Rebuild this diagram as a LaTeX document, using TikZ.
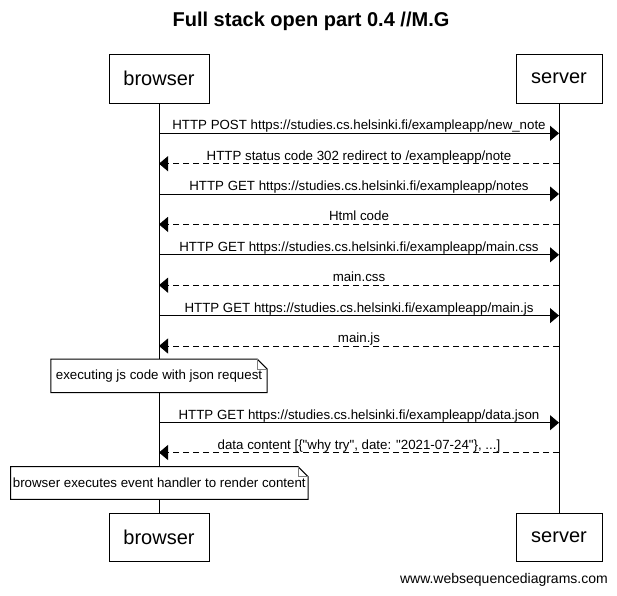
\documentclass[tikz,border=0pt]{standalone}
\usepackage{fontspec}
\setmainfont{Liberation Sans}
\usetikzlibrary{arrows.meta}
\tikzset{
  actor/.style={draw, line width=1pt, fill=white, inner sep=0pt, minimum height=49pt, font=\fontsize{20}{24}\selectfont},
  life/.style={line width=1pt},
  msg/.style={line width=1pt, -{Triangle[length=9pt,width=15pt]}},
  reply/.style={msg, dash pattern=on 6pt off 4pt},
  lbl/.style={anchor=base, inner sep=0pt, yshift=3.5pt, font=\fontsize{13.3}{16}\selectfont},
  notetext/.style={fill=white, inner sep=0pt, font=\fontsize{13.3}{16}\selectfont},
  noteline/.style={line width=1pt},
  fold/.style={line width=0.8pt, draw=gray},
}
\begin{document}
\begin{tikzpicture}[x=1pt,y=-1pt]
\useasboundingbox (0,0) rectangle (617,595);
\node[font=\fontsize{20}{24}\selectfont\bfseries] (title) at (311,21) {Full stack open part 0.4 //M.G};
\node[actor, minimum width=100pt] (bt) at (159,78.5) {browser};
\node[actor, minimum width=86pt] (st) at (559,78.5) {server};
\node[actor, minimum width=100pt, minimum height=48pt] (bb) at (159,537) {browser};
\node[actor, minimum width=86pt, minimum height=48pt] (sb) at (559,537) {server};
\draw[life] (bt) -- (bb);
\draw[life] (st) -- (sb);

\coordinate (b1) at (159,133.3);  \coordinate (s1) at (559,133.3);
\coordinate (b2) at (159,163.7);  \coordinate (s2) at (559,163.7);
\coordinate (b3) at (159,194.0);  \coordinate (s3) at (559,194.0);
\coordinate (b4) at (159,224.4);  \coordinate (s4) at (559,224.4);
\coordinate (b5) at (159,254.8);  \coordinate (s5) at (559,254.8);
\coordinate (b6) at (159,285.2);  \coordinate (s6) at (559,285.2);
\coordinate (b7) at (159,315.6);  \coordinate (s7) at (559,315.6);
\coordinate (b8) at (159,346.0);  \coordinate (s8) at (559,346.0);
\coordinate (b9) at (159,422.7);  \coordinate (s9) at (559,422.7);
\coordinate (b10) at (159,452.5); \coordinate (s10) at (559,452.5);

\draw[msg] (b1) -- node[lbl] {HTTP POST https://studies.cs.helsinki.fi/exampleapp/new\_note} (s1);
\draw[reply] (s2) -- node[lbl] {HTTP status code 302 redirect to /exampleapp/note} (b2);
\draw[msg] (b3) -- node[lbl] {HTTP GET https://studies.cs.helsinki.fi/exampleapp/notes} (s3);
\draw[reply] (s4) -- node[lbl] {Html code} (b4);
\draw[msg] (b5) -- node[lbl] {HTTP GET https://studies.cs.helsinki.fi/exampleapp/main.css} (s5);
\draw[reply] (s6) -- node[lbl] {main.css} (b6);
\draw[msg] (b7) -- node[lbl] {HTTP GET https://studies.cs.helsinki.fi/exampleapp/main.js} (s7);
\draw[reply] (s8) -- node[lbl] {main.js} (b8);
\draw[msg] (b9) -- node[lbl] {HTTP GET https://studies.cs.helsinki.fi/exampleapp/data.json} (s9);
\draw[reply] (s10) -- node[lbl] {data content [\{\textquotedbl why try\textquotedbl, date: \textquotedbl 2021-07-24\textquotedbl\}, ...]} (b10);

\node[notetext, minimum width=216pt, minimum height=33pt] (n1) at (159,375.8) {executing js code with json request};
\draw[noteline] (n1.north west) -- ([xshift=-10pt]n1.north east) -- ([yshift=-10pt]n1.north east) -- (n1.south east) -- (n1.south west) -- cycle;
\draw[fold] ([xshift=-10pt]n1.north east) -- ([xshift=-10pt,yshift=-10pt]n1.north east) -- ([yshift=-10pt]n1.north east);

\node[notetext, minimum width=297pt, minimum height=32.3pt] (n2) at (159.3,482.9) {browser executes event handler to render content};
\draw[noteline] (n2.north west) -- ([xshift=-10pt]n2.north east) -- ([yshift=-10pt]n2.north east) -- (n2.south east) -- (n2.south west) -- cycle;
\draw[fold] ([xshift=-10pt]n2.north east) -- ([xshift=-10pt,yshift=-10pt]n2.north east) -- ([yshift=-10pt]n2.north east);

\node[anchor=east, inner sep=0pt, font=\fontsize{14}{17}\selectfont] (footer) at (608,580) {www.websequencediagrams.com};
\end{tikzpicture}
\end{document}
